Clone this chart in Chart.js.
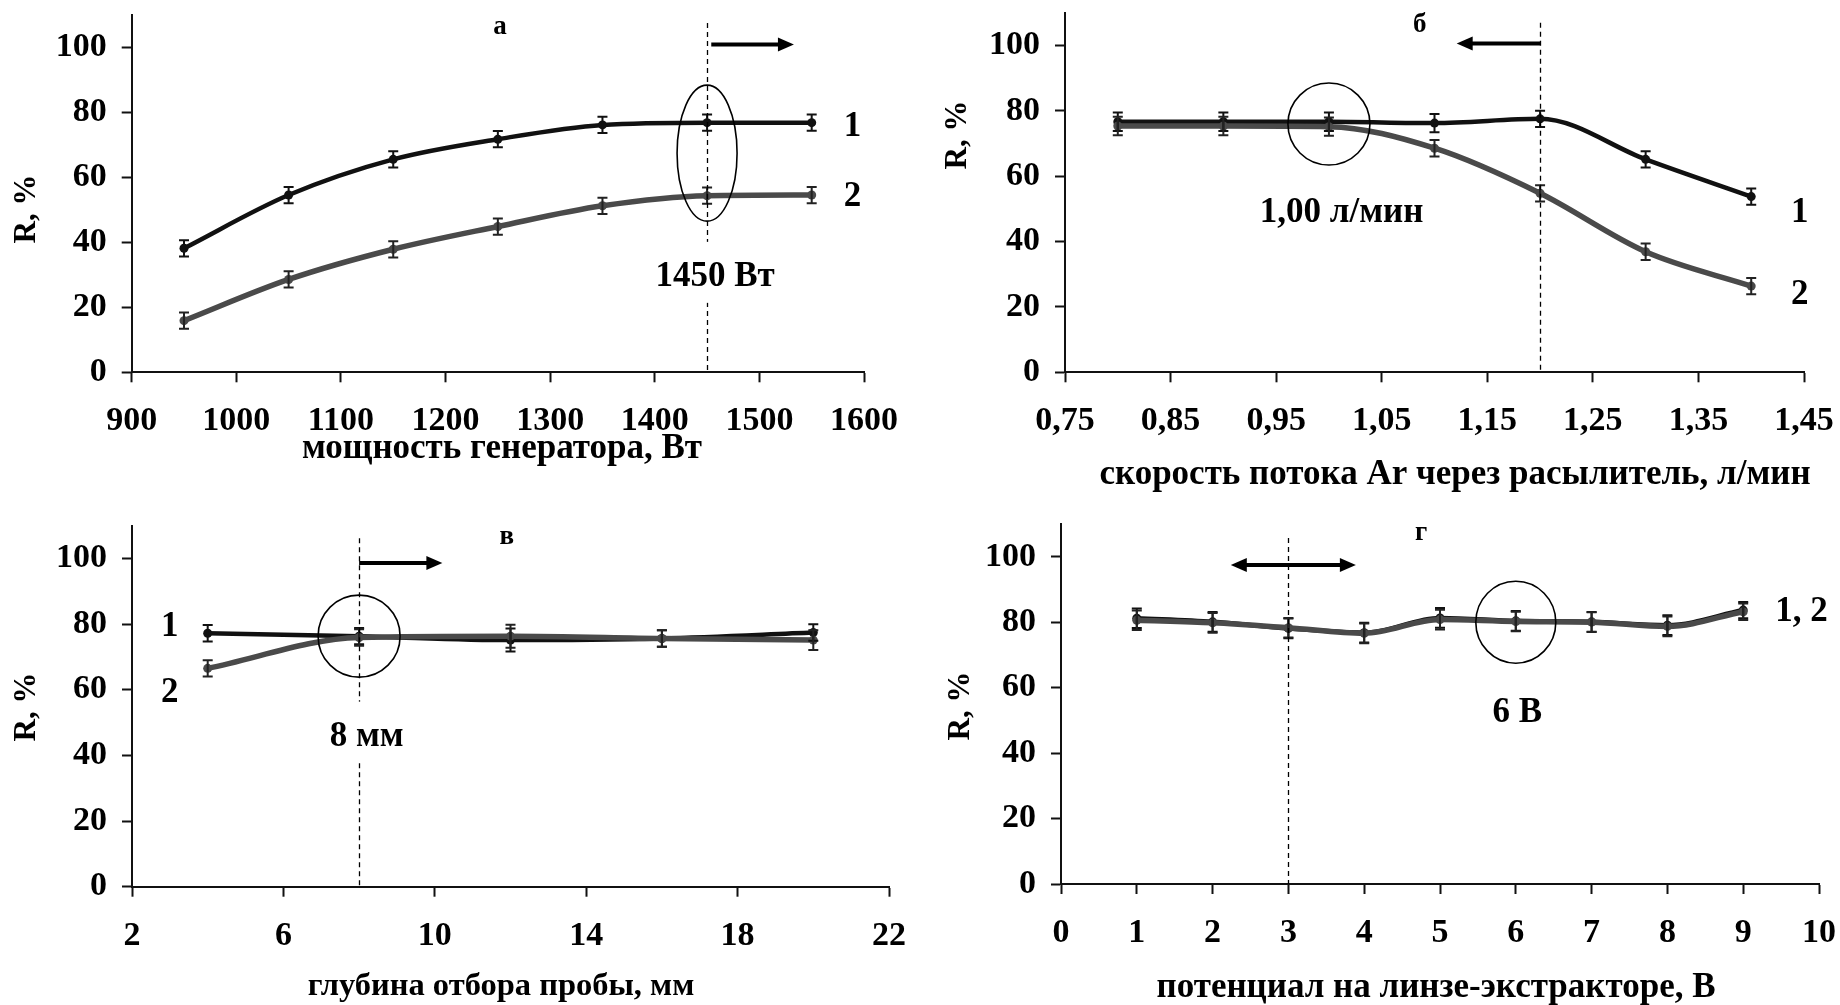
<!DOCTYPE html>
<html><head><meta charset="utf-8">
<script src="https://cdn.jsdelivr.net/npm/chart.js@4.4.1/dist/chart.umd.min.js"></script>
<style>
html,body{margin:0;padding:0;background:#fff;}
body{width:1840px;height:1005px;position:relative;overflow:hidden;}
.p{position:absolute;}
canvas{display:block;}
</style></head><body>
<div class="p" style="left:0;top:0"><canvas id="ca" width="920" height="500"></canvas></div>
<div class="p" style="left:920px;top:0"><canvas id="cb" width="920" height="500"></canvas></div>
<div class="p" style="left:0;top:500px"><canvas id="cc" width="920" height="505"></canvas></div>
<div class="p" style="left:920px;top:500px"><canvas id="cd" width="920" height="505"></canvas></div>
<script>
// ---------- DATA ----------
const yTicks = [0, 20, 40, 60, 80, 100];
const yLabels = ['0', '20', '40', '60', '80', '100'];
const yTitle = 'R, %';

// a) мощность генератора
const xA = [950, 1050, 1150, 1250, 1350, 1450, 1550];
const rA1 = [38.2, 54.6, 65.6, 71.8, 76.2, 76.9, 76.9];
const rA2 = [15.9, 28.6, 37.9, 44.9, 51.3, 54.4, 54.6];
const errA1 = [2.5, 2.5, 2.5, 2.5, 2.5, 2.5, 2.5];
const errA2 = [2.5, 2.5, 2.5, 2.5, 2.5, 2.5, 2.5];
const xTicksA = [900, 1000, 1100, 1200, 1300, 1400, 1500, 1600];
const xLabelsA = ['900', '1000', '1100', '1200', '1300', '1400', '1500', '1600'];
const xTitleA = 'мощность генератора, Вт';

// б) скорость потока Ar
const xB = [0.8, 0.9, 1.0, 1.1, 1.2, 1.3, 1.4];
const rB1 = [76.7, 76.7, 76.7, 76.3, 77.6, 65.2, 53.8];
const rB2 = [75.4, 75.4, 75.2, 68.6, 54.8, 36.9, 26.4];
const errB1 = [2.8, 2.8, 2.8, 2.8, 2.5, 2.5, 2.5];
const errB2 = [2.8, 2.8, 2.8, 2.5, 2.5, 2.5, 2.5];
const xTicksB = [0.75, 0.85, 0.95, 1.05, 1.15, 1.25, 1.35, 1.45];
const xLabelsB = ['0,75', '0,85', '0,95', '1,05', '1,15', '1,25', '1,35', '1,45'];
const xTitleB = 'скорость потока Ar через расылитель, л/мин';

// в) глубина отбора пробы
const xC = [4, 8, 12, 16, 20];
const rC1 = [77.2, 76.3, 75.1, 75.6, 77.4];
const rC2 = [66.5, 75.9, 76.3, 75.6, 75.1];
const errC1 = [2.5, 2.5, 3.5, 2.5, 2.5];
const errC2 = [2.5, 2.5, 3.5, 2.5, 3.0];
const xTicksC = [2, 6, 10, 14, 18, 22];
const xLabelsC = ['2', '6', '10', '14', '18', '22'];
const xTitleC = 'глубина отбора пробы, мм';

// г) потенциал на линзе-экстракторе
const xD = [1, 2, 3, 4, 5, 6, 7, 8, 9];
const rD1 = [81.2, 80.1, 78.1, 76.8, 81.3, 80.4, 80.1, 79.1, 83.7];
const rD2 = [80.6, 79.8, 78.3, 76.6, 80.8, 80.2, 80.0, 78.7, 83.2];
const errD1 = [3, 3, 3, 3, 3, 3, 3, 3, 2.5];
const errD2 = [3, 3, 3, 3, 3, 3, 3, 3, 2.5];
const xTicksD = [0, 1, 2, 3, 4, 5, 6, 7, 8, 9, 10];
const xLabelsD = ['0', '1', '2', '3', '4', '5', '6', '7', '8', '9', '10'];
const xTitleD = 'потенциал на линзе-экстракторе, В';

// ---------- STYLE / HELPERS ----------
const FAM = '"Liberation Serif","Times New Roman",serif';
Chart.defaults.font.family = FAM;
Chart.defaults.font.weight = 'bold';
Chart.defaults.color = '#000';
const C1 = '#111111', C2 = '#4a4a4a';

const errPlugin = {
  id: 'errbars',
  afterDatasetsDraw(chart) {
    const ctx = chart.ctx, xs = chart.scales.x, ys = chart.scales.y;
    chart.data.datasets.forEach(ds => {
      ctx.save();
      ctx.strokeStyle = ds.errColor; ctx.lineWidth = 2;
      ds.data.forEach((pt, i) => {
        const e = ds.err[i];
        const px = xs.getPixelForValue(pt.x);
        const y1 = ys.getPixelForValue(pt.y + e), y2 = ys.getPixelForValue(pt.y - e);
        ctx.beginPath();
        ctx.moveTo(px, y1); ctx.lineTo(px, y2);
        ctx.moveTo(px - 5, y1); ctx.lineTo(px + 5, y1);
        ctx.moveTo(px - 5, y2); ctx.lineTo(px + 5, y2);
        ctx.stroke();
      });
      ctx.restore();
    });
  }
};

function tools(chart) {
  const ctx = chart.ctx, xs = chart.scales.x, ys = chart.scales.y;
  const X = v => xs.getPixelForValue(v), Y = v => ys.getPixelForValue(v);
  return {
    X, Y, ctx,
    dashed(xv, y1v, y2v) {
      ctx.save(); ctx.strokeStyle = '#000'; ctx.lineWidth = 1.3; ctx.setLineDash([5, 4]);
      ctx.beginPath(); ctx.moveTo(Math.round(X(xv)) + 0.5, Y(y1v)); ctx.lineTo(Math.round(X(xv)) + 0.5, Y(y2v)); ctx.stroke();
      ctx.restore();
    },
    arrow(x1v, x2v, yv, both) {
      const x1 = X(x1v), x2 = X(x2v), y = Y(yv);
      const head = (xt, dir) => {
        ctx.beginPath(); ctx.moveTo(xt, y); ctx.lineTo(xt - dir * 16, y - 7); ctx.lineTo(xt - dir * 16, y + 7); ctx.closePath(); ctx.fill();
      };
      ctx.save(); ctx.strokeStyle = '#000'; ctx.fillStyle = '#000'; ctx.lineWidth = 4;
      const d = Math.sign(x2 - x1);
      ctx.beginPath(); ctx.moveTo(both ? x1 + d * 10 : x1, y); ctx.lineTo(x2 - d * 10, y); ctx.stroke();
      head(x2, d);
      if (both) head(x1, -d);
      ctx.restore();
    },
    ellipse(xv, yv, rx, ry) {
      ctx.save(); ctx.strokeStyle = '#000'; ctx.lineWidth = 1.6;
      ctx.beginPath(); ctx.ellipse(X(xv), Y(yv), rx, ry, 0, 0, Math.PI * 2); ctx.stroke();
      ctx.restore();
    },
    text(str, xv, yv, size, bg) {
      ctx.save();
      ctx.font = 'bold ' + size + 'px ' + FAM;
      ctx.textAlign = 'center'; ctx.textBaseline = 'middle';
      const x = X(xv), y = Y(yv);
      if (bg) {
        const w = ctx.measureText(str).width + 14;
        ctx.fillStyle = '#fff'; ctx.fillRect(x - w / 2, y - 35, w, 61);
      }
      ctx.fillStyle = '#000'; ctx.fillText(str, x, y);
      ctx.restore();
    },
    // axis titles placed in canvas pixels
    title(str, x, y, size, rot) {
      ctx.save();
      ctx.font = 'bold ' + size + 'px ' + FAM;
      ctx.textAlign = 'center'; ctx.textBaseline = 'middle'; ctx.fillStyle = '#000';
      ctx.translate(x, y); if (rot) ctx.rotate(-Math.PI / 2);
      ctx.fillText(str, 0, 0);
      ctx.restore();
    }
  };
}

function makePanel(id, p) {
  const H = p.ch - p.area.b;
  const tickFont = {size: 34, weight: 'bold', family: FAM, lineHeight: 1.2};
  const mk = (s, e, col, errCol, w, ord) => ({
    data: p.xs.map((x, i) => ({x: x, y: s[i]})),
    err: e, errColor: errCol,
    borderColor: col, backgroundColor: col, borderWidth: w,
    pointRadius: 4.5, pointBorderWidth: 0, pointBackgroundColor: col,
    tension: 0.4, cubicInterpolationMode: 'monotone', order: ord
  });
  return new Chart(document.getElementById(id), {
    type: 'line',
    data: {datasets: [mk(p.s1, p.e1, C1, '#111', 4.5, 2), mk(p.s2, p.e2, C2, '#222', 5.5, 1)]},
    options: {
      responsive: false, animation: false, events: [],
      layout: {padding: {left: 0, top: p.area.t, right: p.cw - p.area.r, bottom: 0}},
      plugins: {legend: {display: false}, tooltip: {enabled: false}},
      scales: {
        x: {
          type: 'linear', min: p.xMin, max: p.xMax,
          afterBuildTicks(s) { s.ticks = p.xTicks.map(v => ({value: v})); },
          afterFit(s) { s.height = H; s.paddingLeft = 0; s.paddingRight = 0; },
          ticks: {font: tickFont, color: '#000', padding: 19, maxRotation: 0, autoSkip: false,
                  callback: (v, i) => p.xLabels[i]},
          grid: {display: true, drawOnChartArea: false, drawTicks: true, tickLength: 10, tickColor: '#111', tickWidth: 2},
          border: {display: true, color: '#111', width: 2},
          title: {display: false, text: p.xTitle}
        },
        y: {
          type: 'linear', min: 0, max: 110,
          afterBuildTicks(s) { s.ticks = yTicks.map(v => ({value: v})); },
          afterFit(s) { s.width = p.area.l; s.paddingTop = 0; s.paddingBottom = 0; },
          ticks: {font: tickFont, color: '#000', padding: 15, callback: (v, i) => yLabels[i]},
          grid: {display: true, drawOnChartArea: false, drawTicks: true, tickLength: 10, tickColor: '#111', tickWidth: 2},
          border: {display: true, color: '#111', width: 2},
          title: {display: false, text: yTitle}
        }
      }
    },
    plugins: [errPlugin, {id: 'ann_' + id, afterDraw(chart) {
      const t = tools(chart);
      t.title(p.xTitle, p.xT[0], p.xT[1], p.xTSize, false);
      t.title(yTitle, p.yT[0], p.yT[1], 31, true);
      p.annot(t);
    }}]
  });
}

makePanel('ca', {
  cw: 920, ch: 500, area: {l: 131.7, r: 864, t: 15.2, b: 372.3}, xT: [502, 449], xTSize: 35, yT: [26.5, 209],
  xs: xA, s1: rA1, s2: rA2, e1: errA1, e2: errA2, xMin: 900, xMax: 1600,
  xTicks: xTicksA, xLabels: xLabelsA, xTitle: xTitleA,
  annot(t) {
    t.dashed(1450, 107.6, 0);
    t.arrow(1454, 1533, 101, false);
    t.ellipse(1450, 67.5, 30, 68);
    t.text('а', 1252, 106.5, 27);
    t.text('1450 Вт', 1457.6, 29.4, 35, true);
    t.text('1', 1589, 75.7, 35);
    t.text('2', 1589, 54.1, 35);
  }
});

makePanel('cb', {
  cw: 920, ch: 500, area: {l: 145, r: 884, t: 13.0, b: 372.3}, xT: [535, 475], xTSize: 35, yT: [38, 135],
  xs: xB, s1: rB1, s2: rB2, e1: errB1, e2: errB2, xMin: 0.75, xMax: 1.45,
  xTicks: xTicksB, xLabels: xLabelsB, xTitle: xTitleB,
  annot(t) {
    t.dashed(1.2, 107, 0);
    t.arrow(1.2, 1.121, 100.7, false);
    t.ellipse(1.0, 76, 41, 41);
    t.text('б', 1.086, 106.3, 27);
    t.text('1,00 л/мин', 1.012, 48.7, 35);
    t.text('1', 1.446, 48.7, 35);
    t.text('2', 1.446, 23.7, 35);
  }
});

makePanel('cc', {
  cw: 920, ch: 505, area: {l: 132, r: 889, t: 25.5, b: 386.7}, xT: [501, 487], xTSize: 32.5, yT: [26.5, 207],
  xs: xC, s1: rC1, s2: rC2, e1: errC1, e2: errC2, xMin: 2, xMax: 22,
  xTicks: xTicksC, xLabels: xLabelsC, xTitle: xTitleC,
  annot(t) {
    t.dashed(8, 106.1, 0);
    t.arrow(8, 10.2, 98.6, false);
    t.ellipse(8, 76.3, 41, 41);
    t.text('в', 11.9, 106.6, 27);
    t.text('8 мм', 8.2, 45.7, 35, true);
    t.text('1', 3.0, 79.2, 35);
    t.text('2', 3.0, 58.9, 35);
  }
});

makePanel('cd', {
  cw: 920, ch: 505, area: {l: 141, r: 899, t: 24, b: 384}, xT: [516, 488], xTSize: 35, yT: [41, 206],
  xs: xD, s1: rD1, s2: rD2, e1: errD1, e2: errD2, xMin: 0, xMax: 10,
  xTicks: xTicksD, xLabels: xLabelsD, xTitle: xTitleD,
  annot(t) {
    t.dashed(3, 105.7, 0);
    t.arrow(2.24, 3.89, 97.5, true);
    t.ellipse(6, 80, 40, 41);
    t.text('г', 4.75, 107.2, 27);
    t.text('6 В', 6.02, 52.2, 35);
    t.text('1, 2', 9.77, 83.2, 35);
  }
});
</script>
</body></html>
